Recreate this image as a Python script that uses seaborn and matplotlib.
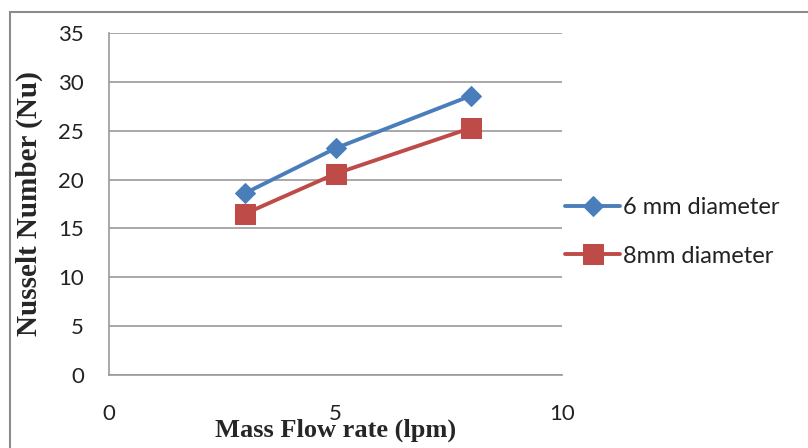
import matplotlib
matplotlib.use("Agg")
import matplotlib.pyplot as plt
import seaborn as sns
import pandas as pd
from matplotlib.patches import Rectangle

# Data
flow_rate = [3, 5, 8]
nu_6mm = [18.6, 23.2, 28.6]
nu_8mm = [16.5, 20.6, 25.3]
series_names = ["6 mm diameter", "8mm diameter"]
x_ticks = [0, 5, 10]
y_ticks = [0, 5, 10, 15, 20, 25, 30, 35]

df = pd.DataFrame({
    "flow": flow_rate * 2,
    "nu": nu_6mm + nu_8mm,
    "series": [series_names[0]] * len(flow_rate) + [series_names[1]] * len(flow_rate),
})

sns.set_style("white")
plt.rcParams["font.family"] = ["Lato", "DejaVu Sans"]

fig = plt.figure(figsize=(8.08, 4.48), dpi=100)
# outer chart border
fig.patches.append(Rectangle((10 / 808, -0.1), 1.0, 1 - 12 / 448 + 0.1,
                             transform=fig.transFigure, fill=False,
                             edgecolor="#8c8c8c", linewidth=1.5, zorder=0))

ax = fig.add_axes([109 / 808, 1 - 375 / 448, (562 - 109) / 808, (375 - 33) / 448])

palette = {series_names[0]: "#4A7EBB", series_names[1]: "#BE4B48"}
markers = {series_names[0]: "D", series_names[1]: "s"}
sizes_map = {series_names[0]: 10, series_names[1]: 14}

for name in series_names:
    sub = df[df["series"] == name]
    sns.lineplot(data=sub, x="flow", y="nu", ax=ax, color=palette[name],
                 marker=markers[name], markersize=sizes_map[name],
                 markeredgecolor=palette[name], linewidth=2.8, label=name)

ax.set_xlim(0, 10)
ax.set_ylim(0, 35)
ax.set_xticks(x_ticks)
ax.set_yticks(y_ticks)
ax.set_xticklabels([str(t) for t in x_ticks], fontsize=16, color="#222222")
ax.set_yticklabels([str(t) for t in y_ticks], fontsize=16, color="#222222")
ax.tick_params(axis="x", length=0, pad=21)
ax.tick_params(axis="y", length=0, pad=18)
ax.grid(axis="y", color="#9a9a9a", linewidth=1.2)
ax.set_axisbelow(True)
for s in ["top", "right"]:
    ax.spines[s].set_visible(False)
for s in ["left", "bottom"]:
    ax.spines[s].set_color("#9a9a9a")
    ax.spines[s].set_linewidth(1.2)

ax.set_xlabel("Mass Flow rate (lpm)", fontsize=19, fontweight="bold",
              family="Liberation Serif", labelpad=-4)
ax.set_ylabel("Nusselt Number (Nu)", fontsize=21, fontweight="bold",
              family="Liberation Serif", labelpad=11)

leg = ax.legend(loc="center left", bbox_to_anchor=(565 / 808, 1 - 232 / 448),
                bbox_transform=fig.transFigure, frameon=False, fontsize=17,
                handlelength=2.35, handletextpad=0.1, labelspacing=1.15,
                borderaxespad=0, borderpad=0)
for t in leg.get_texts():
    t.set_color("#222222")

fig.savefig("out.png", dpi=100)
